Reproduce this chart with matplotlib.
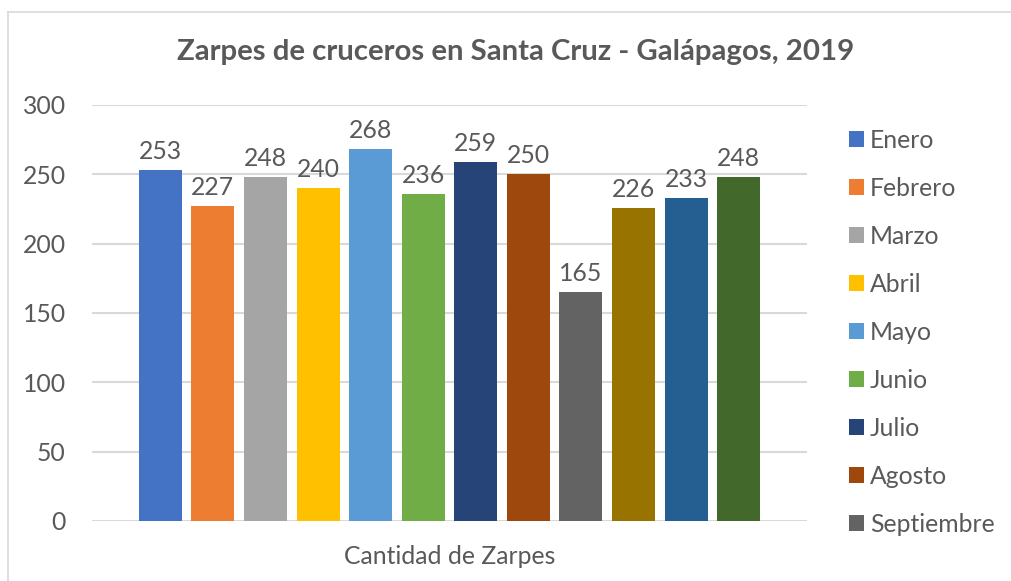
import matplotlib
matplotlib.use("Agg")
import matplotlib.pyplot as plt
from matplotlib.patches import Patch
from matplotlib.lines import Line2D

meses = ["Enero", "Febrero", "Marzo", "Abril", "Mayo", "Junio", "Julio",
         "Agosto", "Septiembre", "Octubre", "Noviembre", "Diciembre"]
zarpes = [253, 227, 248, 240, 268, 236, 259, 250, 165, 226, 233, 248]
colores = ["#4472C4", "#ED7D31", "#A5A5A5", "#FFC000", "#5B9BD5", "#70AD47",
           "#264478", "#9E480E", "#636363", "#997300", "#255E91", "#43682B"]
yticks = [0, 50, 100, 150, 200, 250, 300]

plt.rcParams["font.family"] = ["Lato", "DejaVu Sans"]
gris = "#595959"
fs = 17.8

fig = plt.figure(figsize=(10.11, 5.81), dpi=100)
ax = fig.add_axes([92 / 1011, 1 - 521 / 581, 715 / 1011, 416 / 581])

x = list(range(len(zarpes)))
barras = ax.bar(x, zarpes, width=0.82, color=colores, zorder=3)
for xi, v in zip(x, zarpes):
    ax.annotate(str(v), (xi, v), xytext=(0, 5), textcoords="offset points",
                ha="center", va="bottom", fontsize=fs, color=gris)

ax.set_xlim(5.5 - 6.8, 5.5 + 6.8)
ax.set_ylim(0, 300)
ax.set_yticks(yticks)
ax.set_xticks([])
ax.tick_params(axis="y", length=0, pad=19, labelsize=fs, labelcolor=gris)
ax.grid(axis="y", color="#D9D9D9", linewidth=1.5, zorder=0)
for s in ax.spines.values():
    s.set_visible(False)

ax.set_xlabel("Cantidad de Zarpes", fontsize=fs, color=gris)
ax.xaxis.set_label_coords(0.5, -0.0865)
ax.xaxis.label.set_va("center")

fig.text(516 / 1011, 1 - 52 / 581, "Zarpes de cruceros en Santa Cruz - Galápagos, 2019",
         ha="center", va="center", fontsize=21.2, fontweight="bold", color=gris)

# solo se ven las nueve primeras entradas de la leyenda
handles = [Patch(facecolor=c) for c in colores[:9]]
leg = fig.legend(handles, meses[:9], loc="upper left",
                 bbox_to_anchor=(839 / 1011, 1 - 119 / 581), frameon=False,
                 fontsize=fs, labelcolor=gris, handlelength=0.62, handleheight=0.62,
                 handletextpad=0.22, labelspacing=1.01, borderaxespad=0)

# borde del gráfico
fig.add_artist(Line2D([8 / 1011, 8 / 1011], [0, 1 - 12 / 581], transform=fig.transFigure,
                      color="#D9D9D9", linewidth=1.2))
fig.add_artist(Line2D([8 / 1011, 1], [1 - 12 / 581, 1 - 12 / 581], transform=fig.transFigure,
                      color="#D9D9D9", linewidth=1.2))

fig.savefig("out.png", dpi=100)
